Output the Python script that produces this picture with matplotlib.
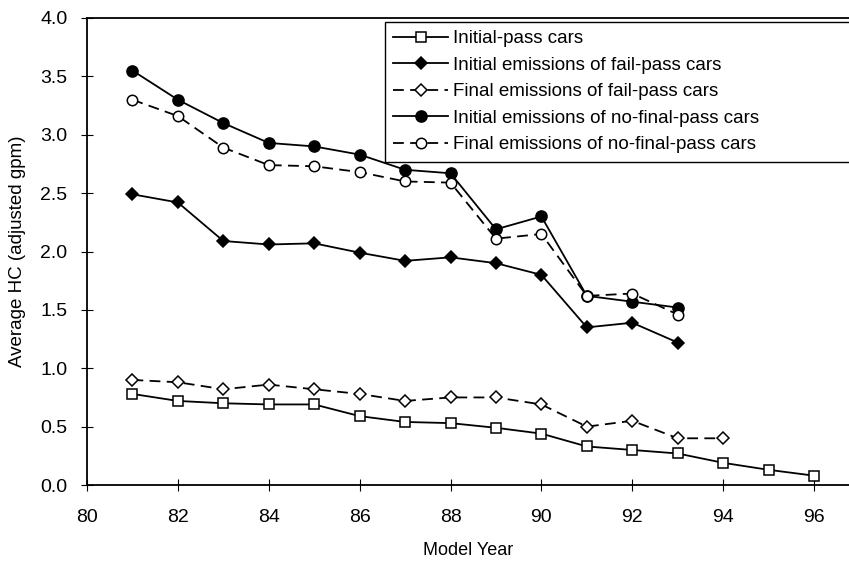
import numpy as np
import matplotlib
matplotlib.use("Agg")
import matplotlib.pyplot as plt

plt.rcParams['font.family'] = ['Liberation Sans', 'DejaVu Sans']

# model years
years_pass = [81, 82, 83, 84, 85, 86, 87, 88, 89, 90, 91, 92, 93, 94, 95, 96]
years_fp_final = [81, 82, 83, 84, 85, 86, 87, 88, 89, 90, 91, 92, 93, 94]
years_fail = [81, 82, 83, 84, 85, 86, 87, 88, 89, 90, 91, 92, 93]

# average HC (adjusted gpm)
initial_pass = [0.78, 0.72, 0.70, 0.69, 0.69, 0.59, 0.54, 0.53, 0.49, 0.44,
                0.33, 0.30, 0.27, 0.19, 0.13, 0.08]
fail_pass_initial = [2.49, 2.42, 2.09, 2.06, 2.07, 1.99, 1.92, 1.95, 1.90,
                     1.80, 1.35, 1.39, 1.22]
fail_pass_final = [0.90, 0.88, 0.82, 0.86, 0.82, 0.78, 0.72, 0.75, 0.75,
                   0.69, 0.50, 0.55, 0.40, 0.40]
nofinal_initial = [3.55, 3.30, 3.10, 2.93, 2.90, 2.83, 2.70, 2.67, 2.19,
                   2.30, 1.62, 1.57, 1.52]
nofinal_final = [3.30, 3.16, 2.89, 2.74, 2.73, 2.68, 2.60, 2.59, 2.11,
                 2.15, 1.62, 1.64, 1.46]

fig = plt.figure(figsize=(8.49, 5.61), dpi=100)
ax = fig.add_axes([87 / 849, 76 / 561, 1 - 87 / 849, 467 / 561])

dash = (0, (6, 3.5))
common = dict(color='black', linewidth=1.3, markeredgecolor='black',
              markeredgewidth=1.1)

ax.plot(years_pass, initial_pass, marker='s', markersize=7.8,
        markerfacecolor='white', linestyle='-', label='Initial-pass cars', **common)
ax.plot(years_fail, fail_pass_initial, marker='D', markersize=6.5,
        markerfacecolor='black', linestyle='-',
        label='Initial emissions of fail-pass cars', **common)
ax.plot(years_fp_final, fail_pass_final, marker='D', markersize=6.0,
        markerfacecolor='white', linestyle=dash,
        label='Final emissions of fail-pass cars', **common)
ax.plot(years_fail, nofinal_initial, marker='o', markersize=8,
        markerfacecolor='black', linestyle='-',
        label='Initial emissions of no-final-pass cars', **common)
ax.plot(years_fail, nofinal_final, marker='o', markersize=7.5,
        markerfacecolor='white', linestyle=dash,
        label='Final emissions of no-final-pass cars', **common)

ax.set_xlim(80, 96.77)
ax.set_ylim(0, 4.0)
ax.set_xticks(np.arange(80, 97, 2))
ax.set_yticks(np.arange(0, 4.01, 0.5))
ax.set_yticklabels([f"{v:.1f}" for v in np.arange(0, 4.01, 0.5)])
ax.tick_params(direction='inout', length=8, width=0.8, labelsize=14, pad=10)
ax.tick_params(axis='x', pad=13)
ax.spines['right'].set_visible(False)
for s in ['left', 'bottom', 'top']:
    ax.spines[s].set_linewidth(1.3)

ax.set_xlabel('Model Year', fontsize=13, labelpad=12)
ax.set_ylabel('Average HC (adjusted gpm)', fontsize=13.5, labelpad=10)

# legend box runs off the right-hand edge
x0 = (385 - 87) / 762
leg = ax.legend(loc='upper left', bbox_to_anchor=(x0, 0.0, 2.0 - x0, 0.992),
                mode='expand', fontsize=13.5, frameon=True, fancybox=False,
                framealpha=1, edgecolor='black', borderpad=0.45,
                labelspacing=0.5, handlelength=2.9, handletextpad=0.3,
                borderaxespad=0)
leg.get_frame().set_linewidth(1.0)

fig.savefig('out.png', dpi=100)
